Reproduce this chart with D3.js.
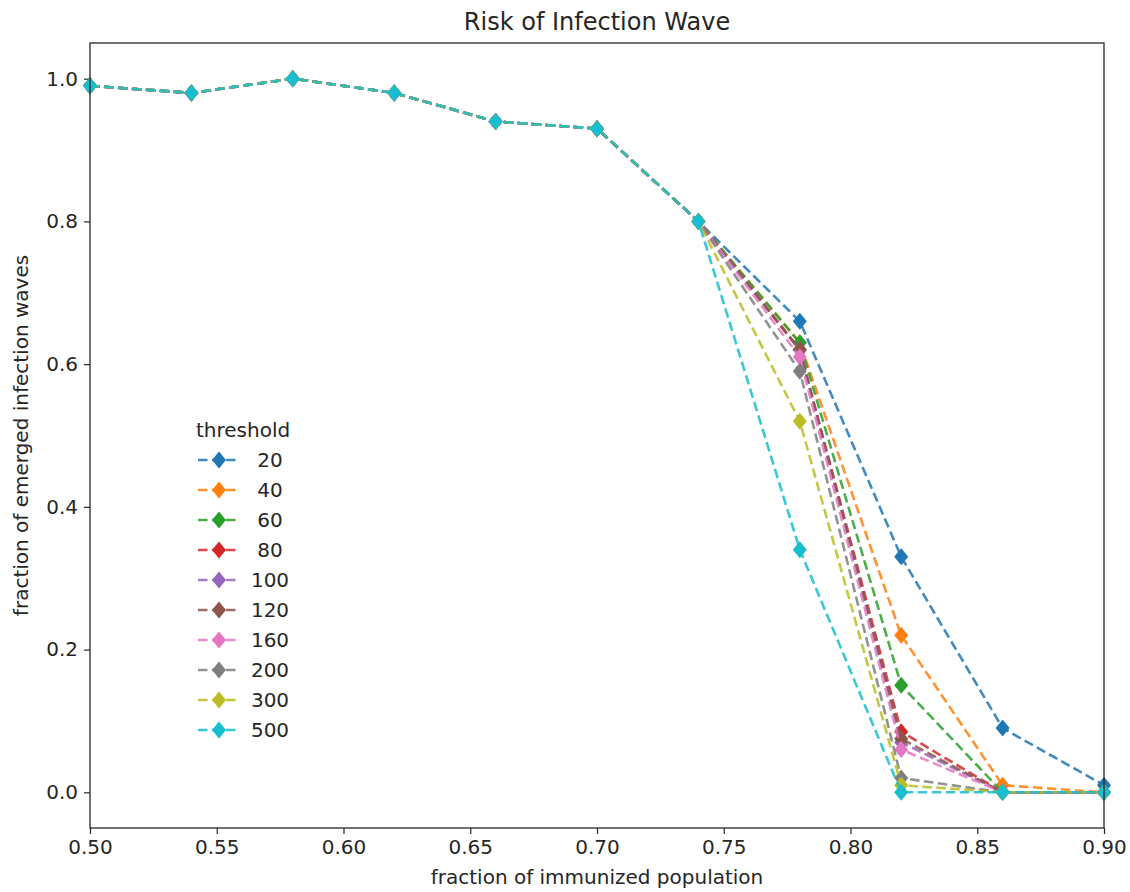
<!DOCTYPE html>
<html><head><meta charset="utf-8">
<script src="https://cdn.jsdelivr.net/npm/d3@7"></script>
<style>body{margin:0;background:#fff}svg{display:block}text{font-family:"DejaVu Sans",sans-serif;fill:#262626}</style>
</head><body><svg id="c" width="1130" height="892"></svg>
<script>
const xValues = [0.50,0.54,0.58,0.62,0.66,0.70,0.74,0.78,0.82,0.86,0.90];
const thresholds = ["20","40","60","80","100","120","160","200","300","500"];
const colors = ["#1f77b4","#ff7f0e","#2ca02c","#d62728","#9467bd","#8c564b","#e377c2","#7f7f7f","#bcbd22","#17becf"];
const common = [0.99,0.98,1.00,0.98,0.94,0.93,0.80];
const s20  = [...common,0.66,0.33,0.09,0.01];
const s40  = [...common,0.63,0.22,0.01,0.00];
const s60  = [...common,0.63,0.15,0.00,0.00];
const s80  = [...common,0.62,0.085,0.00,0.00];
const s100 = [...common,0.62,0.07,0.00,0.00];
const s120 = [...common,0.62,0.075,0.00,0.00];
const s160 = [...common,0.61,0.06,0.00,0.00];
const s200 = [...common,0.59,0.02,0.00,0.00];
const s300 = [...common,0.52,0.01,0.00,0.00];
const s500 = [...common,0.34,0.00,0.00,0.00];
const series = [s20,s40,s60,s80,s100,s120,s160,s200,s300,s500];
const xTicks = [0.50,0.55,0.60,0.65,0.70,0.75,0.80,0.85,0.90];
const yTicks = [0.0,0.2,0.4,0.6,0.8,1.0];

const FS = 20;
const svg = d3.select("#c");
const L=90,R=1104,T=43,B=828;
const x = d3.scaleLinear().domain([0.5,0.9]).range([L,R]);
const y = d3.scaleLinear().domain([-0.05,1.05]).range([B,T]);

const xa = svg.append("g").attr("transform",`translate(0,${B})`)
  .call(d3.axisBottom(x).tickValues(xTicks).tickFormat(d3.format(".2f")).tickSize(6).tickPadding(6));
const ya = svg.append("g").attr("transform",`translate(${L},0)`)
  .call(d3.axisLeft(y).tickValues(yTicks).tickFormat(d3.format(".1f")).tickSize(6).tickPadding(6));
[xa,ya].forEach(a=>{a.select(".domain").remove();a.selectAll("line").attr("stroke","#262626").attr("stroke-width",1.2);
  a.selectAll("text").attr("font-size",FS).attr("fill","#262626").style("font-family","DejaVu Sans");});

const plot = svg.append("g");
const line = d3.line().x((d,i)=>x(xValues[i])).y(d=>y(d));
const diamond = (cx,cy)=>`M${cx},${cy-8.5}L${cx+7},${cy}L${cx},${cy+8.5}L${cx-7},${cy}Z`;
series.forEach((s,k)=>{
  const g = plot.append("g");
  g.append("path").attr("d",line(s)).attr("fill","none").attr("stroke",colors[k]).attr("stroke-width",2.6)
    .attr("stroke-dasharray","9.5,4.5").attr("opacity",0.85);
  g.selectAll("path.m").data(s).enter().append("path").attr("class","m")
    .attr("d",(d,i)=>diamond(x(xValues[i]),y(d))).attr("fill",colors[k]);
});

svg.append("rect").attr("x",L).attr("y",T).attr("width",R-L).attr("height",B-T)
  .attr("fill","none").attr("stroke","#262626").attr("stroke-width",1.3);

// legend
const lg = svg.append("g");
lg.append("text").attr("x",196).attr("y",437).attr("font-size",FS).text("threshold");
thresholds.forEach((t,k)=>{
  const cy = 460 + k*30;
  lg.append("line").attr("x1",198).attr("x2",240).attr("y1",cy).attr("y2",cy).attr("stroke",colors[k])
    .attr("stroke-width",2.6).attr("stroke-dasharray","9.5,4.5").attr("opacity",0.85);
  lg.append("path").attr("d",diamond(219,cy)).attr("fill",colors[k]);
  lg.append("text").attr("x",270).attr("y",cy+7).attr("font-size",FS).attr("text-anchor","middle").text(t);
});

svg.append("text").attr("x",(L+R)/2).attr("y",30).attr("text-anchor","middle").attr("font-size",24).text("Risk of Infection Wave");
svg.append("text").attr("x",(L+R)/2).attr("y",884).attr("text-anchor","middle").attr("font-size",FS).text("fraction of immunized population");
svg.append("text").attr("transform",`translate(28,${(T+B)/2}) rotate(-90)`).attr("text-anchor","middle").attr("font-size",FS).text("fraction of emerged infection waves");
</script></body></html>
